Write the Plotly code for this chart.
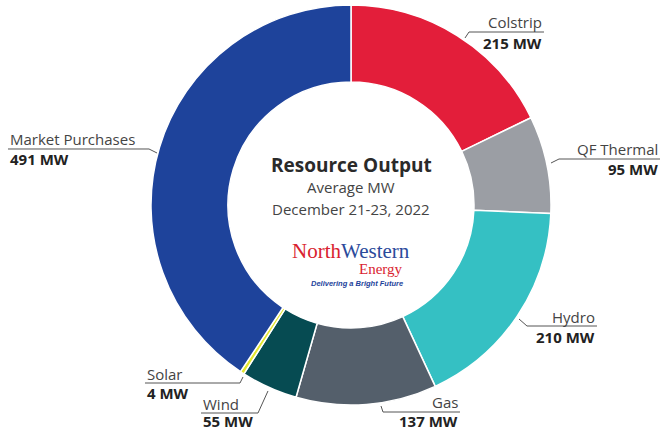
import plotly.graph_objects as go

categories = ["Colstrip", "QF Thermal", "Hydro", "Gas", "Wind", "Solar", "Market Purchases"]
values_mw = [215, 95, 210, 137, 55, 4, 491]
colors = ["#E31E3A", "#9B9EA4", "#35C0C3", "#545F6B", "#064B52", "#E3E62E", "#1E439B"]

W, H = 662, 430

def px(x):
    return x / W

def py(y):
    return 1 - y / H

# layout positions (pixels) for each label: anchor side, text x, name y, value y, leader polyline
label_layout = {
    "Colstrip": ("right", 544, 22, 43, [(465, 38), (469, 32), (544, 32)]),
    "QF Thermal": ("right", 660, 149, 169, [(551, 163), (559, 159), (660, 159)]),
    "Hydro": ("right", 597, 317, 337, [(519, 319), (527, 326), (597, 326)]),
    "Gas": ("right", 460, 402, 421, [(381, 406), (383, 412), (460, 412)]),
    "Wind": ("left", 201, 404, 421, [(268, 391), (258, 413), (201, 413)]),
    "Solar": ("left", 145, 374, 393, [(243, 377), (240, 383), (145, 383)]),
    "Market Purchases": ("left", 8, 139, 159, [(157, 153), (149, 149), (8, 149)]),
}

cx, cy, R = 351, 205, 200

fig = go.Figure(go.Pie(
    labels=categories,
    values=values_mw,
    marker=dict(colors=colors, line=dict(color="white", width=1.5)),
    hole=0.615,
    sort=False,
    direction="clockwise",
    rotation=0,
    textinfo="none",
    hoverinfo="label+value",
    showlegend=False,
    domain=dict(x=[px(cx - R), px(cx + R)], y=[py(cy + R), py(cy - R)]),
))

annotations = []
shapes = []
FONT = "Open Sans"
for name, val in zip(categories, values_mw):
    side, tx, ny, vy, pts = label_layout[name]
    annotations.append(dict(x=px(tx), y=py(ny), xref="paper", yref="paper", text=name,
                            showarrow=False, xanchor=side, yanchor="middle",
                            font=dict(family=FONT, size=15, color="#444444")))
    annotations.append(dict(x=px(tx), y=py(vy), xref="paper", yref="paper", text=f"<b>{val} MW</b>",
                            showarrow=False, xanchor=side, yanchor="middle",
                            font=dict(family=FONT, size=15, color="#222222")))
    path = "M " + " L ".join(f"{px(x):.5f},{py(y):.5f}" for x, y in pts)
    shapes.append(dict(type="path", path=path, xref="paper", yref="paper",
                       line=dict(color="#555555", width=1)))

# center title
annotations += [
    dict(x=px(351), y=py(165), xref="paper", yref="paper", text="<b>Resource Output</b>",
         showarrow=False, xanchor="center", yanchor="middle",
         font=dict(family=FONT, size=19, color="#2a2a2a")),
    dict(x=px(351), y=py(187), xref="paper", yref="paper", text="Average MW",
         showarrow=False, xanchor="center", yanchor="middle",
         font=dict(family=FONT, size=15, color="#444444")),
    dict(x=px(351), y=py(209), xref="paper", yref="paper", text="December 21-23, 2022",
         showarrow=False, xanchor="center", yanchor="middle",
         font=dict(family=FONT, size=15, color="#444444")),
    dict(x=px(351), y=py(251), xref="paper", yref="paper",
         text="<span style='color:#D9232F'>North</span><span style='color:#2B4A9B'>Western</span>",
         showarrow=False, xanchor="center", yanchor="middle",
         font=dict(family="Liberation Serif", size=21)),
    dict(x=px(405), y=py(269), xref="paper", yref="paper", text="Energy",
         showarrow=False, xanchor="right", yanchor="middle",
         font=dict(family="Liberation Serif", size=15, color="#D9232F")),
    dict(x=px(405), y=py(283), xref="paper", yref="paper", text="<b><i>Delivering a Bright Future</i></b>",
         showarrow=False, xanchor="right", yanchor="middle",
         font=dict(family="Liberation Sans", size=7.5, color="#1E439B")),
]

fig.update_layout(
    width=W, height=H,
    margin=dict(l=0, r=0, t=0, b=0),
    paper_bgcolor="white", plot_bgcolor="white",
    annotations=annotations,
    shapes=shapes,
)

fig.write_html("out.html",
               config={"displayModeBar": False},
               post_script="document.body.style.margin='0';document.body.style.padding='0';document.body.style.overflow='hidden';")
